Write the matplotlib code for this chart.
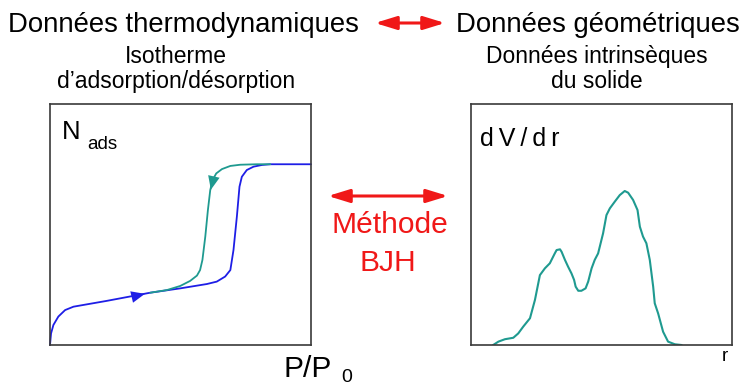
import matplotlib
matplotlib.use("Agg")
import matplotlib.pyplot as plt

plt.rcParams['font.family'] = ['Liberation Sans', 'DejaVu Sans']

# ---- data (fractions of the box) ----
ads_p = [0.0, 0.004, 0.013, 0.032, 0.058, 0.090, 0.217, 0.384, 0.499, 0.601, 0.639,
         0.671, 0.691, 0.703, 0.716, 0.726, 0.735, 0.754, 0.780, 0.812, 0.844, 1.0]
ads_n = [0.0, 0.048, 0.083, 0.118, 0.145, 0.159, 0.183, 0.217, 0.235, 0.253, 0.263,
         0.284, 0.311, 0.394, 0.533, 0.657, 0.698, 0.726, 0.740, 0.747, 0.750, 0.750]

des_p = [0.844, 0.793, 0.729, 0.691, 0.659, 0.637, 0.623, 0.614, 0.605, 0.595, 0.584,
         0.575, 0.563, 0.537, 0.499, 0.448, 0.384]
des_n = [0.750, 0.750, 0.748, 0.743, 0.730, 0.712, 0.685, 0.643, 0.560, 0.450, 0.353,
         0.311, 0.288, 0.266, 0.245, 0.228, 0.217]

r_vals = [0.085, 0.105, 0.130, 0.162, 0.181, 0.200, 0.226, 0.245, 0.264, 0.283, 0.302,
          0.321, 0.328, 0.341, 0.347, 0.360, 0.372, 0.385, 0.395, 0.401, 0.411, 0.423,
          0.439, 0.449, 0.462, 0.474, 0.487, 0.506, 0.519, 0.532, 0.551, 0.570, 0.589,
          0.602, 0.621, 0.638, 0.647, 0.659, 0.672, 0.685, 0.698, 0.704, 0.717, 0.736,
          0.755, 0.781, 0.806]
dvdr = [0.0, 0.014, 0.024, 0.030, 0.048, 0.076, 0.111, 0.187, 0.290, 0.318, 0.339,
        0.380, 0.394, 0.397, 0.387, 0.353, 0.325, 0.297, 0.270, 0.242, 0.225, 0.225,
        0.235, 0.263, 0.318, 0.353, 0.380, 0.463, 0.539, 0.567, 0.595, 0.622, 0.639,
        0.632, 0.602, 0.560, 0.491, 0.450, 0.422, 0.353, 0.242, 0.173, 0.131, 0.055,
        0.014, 0.003, 0.0]

BLUE = '#1e1ee6'
TEAL = '#1f9a90'
RED = '#f01818'
W, H = 742, 387

fig = plt.figure(figsize=(W / 100, H / 100), dpi=100)


def box(x0, y0, x1, y1):
    ax = fig.add_axes([x0 / W, (H - y1) / H, (x1 - x0) / W, (y1 - y0) / H])
    ax.set_xlim(0, 1)
    ax.set_ylim(0, 1)
    ax.set_xticks([])
    ax.set_yticks([])
    for s in ax.spines.values():
        s.set_color('#3a3a3a')
        s.set_linewidth(1.2)
    return ax


ax1 = box(50, 104, 311, 345)
ax1.plot(ads_p, ads_n, color=BLUE, lw=1.3, solid_capstyle='round', clip_on=False)
ax1.plot(des_p, des_n, color=TEAL, lw=1.3, solid_capstyle='round')
ax1.annotate('', xy=(ads_p[7] - 0.01, ads_n[7] - 0.002), xytext=(ads_p[6] + 0.08, ads_n[6] + 0.012),
             arrowprops=dict(arrowstyle='-|>,head_length=0.7,head_width=0.3', color=BLUE,
                             lw=0.01, mutation_scale=14))
ax1.annotate('', xy=(des_p[7], des_n[7] - 0.01), xytext=(des_p[6] + 0.005, des_n[6] + 0.015),
             arrowprops=dict(arrowstyle='-|>,head_length=0.7,head_width=0.3', color=TEAL,
                             lw=0.01, mutation_scale=14))

ax2 = box(471, 104, 732, 345)
ax2.plot(r_vals, dvdr, color=TEAL, lw=1.5)

# overlay for text and arrows in pixel coordinates
ov = fig.add_axes([0, 0, 1, 1], facecolor='none')
ov.set_xlim(0, W)
ov.set_ylim(H, 0)
ov.axis('off')

ov.text(8, 32, 'Données thermodynamiques', fontsize=19.8, ha='left', va='baseline')
ov.text(740, 32, 'Données géométriques', fontsize=19.8, ha='right', va='baseline')
ov.text(176, 63, 'Isotherme', fontsize=16.5, ha='center', va='baseline')
ov.text(176, 88, 'd\u2019adsorption/désorption', fontsize=16.5, ha='center', va='baseline')
ov.text(597, 63, 'Données intrinsèques', fontsize=16.5, ha='center', va='baseline')
ov.text(597, 88, 'du solide', fontsize=16.5, ha='center', va='baseline')

ov.text(62, 139, 'N', fontsize=18.5, ha='left', va='baseline')
ov.text(87, 149, 'ads', fontsize=13.5, ha='left', va='baseline')
ov.text(480, 146, 'd\u2009V\u2009/\u2009d\u2009r', fontsize=18, ha='left', va='baseline')
ov.text(283, 377, 'P/P', fontsize=21.6, ha='left', va='baseline')
ov.text(341, 382, '0', fontsize=14, ha='left', va='baseline')
ov.text(722, 361, 'r', fontsize=13.5, ha='left', va='baseline')

ov.text(390, 233, 'Méthode', fontsize=21.6, color=RED, ha='center', va='baseline')
ov.text(388, 271, 'BJH', fontsize=21.6, color=RED, ha='center', va='baseline')

arr = dict(arrowstyle='<|-|>,head_length=0.65,head_width=0.2', color=RED, lw=2.2,
           mutation_scale=20, shrinkA=0, shrinkB=0)
ov.annotate('', xy=(375, 23), xytext=(445, 23), arrowprops=arr)
ov.annotate('', xy=(328, 196), xytext=(448, 196), arrowprops=arr)

fig.savefig('out.png', dpi=100)
